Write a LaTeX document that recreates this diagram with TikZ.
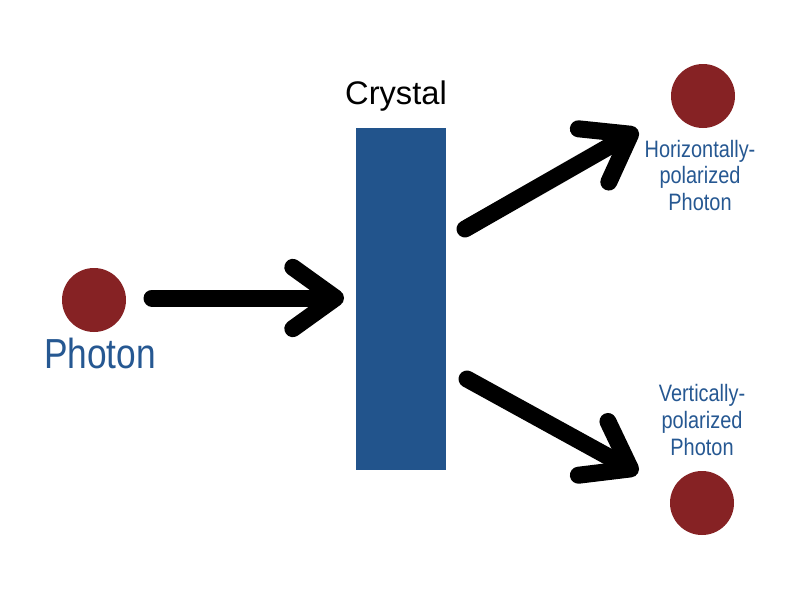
\documentclass[tikz,border=0pt]{standalone}
\usepackage{fontspec}
\setmainfont{Liberation Sans}
\newfontfamily\narrowfont[FakeStretch=0.84]{Liberation Sans}
\usetikzlibrary{arrows.meta}
\definecolor{crystalblue}{RGB}{34,84,140}
\definecolor{textblue}{RGB}{38,88,146}
\definecolor{photonred}{RGB}{134,34,36}
\tikzset{
  photondot/.style={circle, fill=photonred, draw=none, minimum size=48pt, inner sep=0pt},
  beam/.style={line width=12.75pt, line cap=round, line join=round,
    -{Straight Barb[round, length=32pt, width=46pt]}},
  bluelabel/.style={text=textblue, font=\narrowfont\fontsize{17.8}{19.9}\selectfont, align=center, inner sep=0pt},
}
\begin{document}
\begin{tikzpicture}[x=0.75pt, y=-0.75pt]
\useasboundingbox (0,0) rectangle (800,600);
\fill[white] (0,0) rectangle (800,600);
% crystal
\node[fill=crystalblue, minimum width=67.5pt, minimum height=256.5pt, inner sep=0pt] (crystal) at (401,299) {};
\node[anchor=base, inner sep=0pt, font=\fontsize{24.5}{28}\selectfont] (crystallabel) at (396,104) {Crystal};
% photons
\node[photondot] (photonL) at (94,300) {};
\node[anchor=base, inner sep=0pt, text=textblue, font=\narrowfont\fontsize{31.5}{36}\selectfont] (photonLlabel) at (100,368) {Photon};
\node[photondot] (photonH) at (703,96) {};
\node[photondot] (photonV) at (702,503) {};
\node[bluelabel] (hlabel) at (700,175.5) {Horizontally-\\polarized\\Photon};
\node[bluelabel] (vlabel) at (702,420) {Vertically-\\polarized\\Photon};
% beams
\coordinate (b1s) at (152,298);
\coordinate (b1e) at (344,298);
\coordinate (b2s) at (465,229);
\coordinate (b2e) at (638,130);
\coordinate (b3s) at (467,379);
\coordinate (b3e) at (638,473);
\draw[beam] (b1s) -- (b1e);
\draw[beam] (b2s) -- (b2e);
\draw[beam] (b3s) -- (b3e);
\end{tikzpicture}
\end{document}
